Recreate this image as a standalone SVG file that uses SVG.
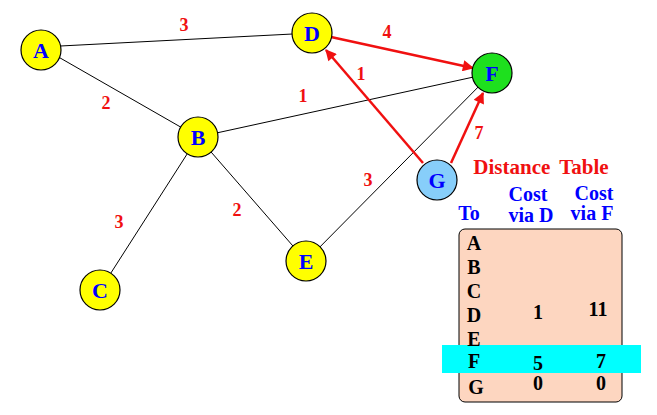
<svg xmlns="http://www.w3.org/2000/svg" width="657" height="415" viewBox="0 0 657 415">
<style>
.edge{stroke:#000;stroke-width:1;fill:none}
.red{stroke:#f01010;stroke-width:2.5;fill:none}
.node{stroke:#000;stroke-width:1.2}
.nl{font-family:"Liberation Serif",serif;font-weight:bold;font-size:22px;fill:#0000ff;text-anchor:middle;dominant-baseline:central}
.wl{font-family:"Liberation Serif",serif;font-weight:bold;font-size:18px;fill:#f01010;text-anchor:middle;dominant-baseline:central}
.hd{font-family:"Liberation Serif",serif;font-weight:bold;font-size:20px;fill:#0000ff;text-anchor:middle;dominant-baseline:central}
.tl{font-family:"Liberation Serif",serif;font-weight:bold;font-size:20px;fill:#000;text-anchor:middle;dominant-baseline:central}
</style>
<defs>
<marker id="ah" viewBox="0 0 10 10" refX="9" refY="5" markerWidth="5.5" markerHeight="4.5" orient="auto" markerUnits="strokeWidth">
<path d="M0,0 L10,5 L0,10 z" fill="#f01010"/>
</marker>
</defs>
<rect width="657" height="415" fill="#fff"/>
<g id="connectors">
<line class="edge" x1="41" y1="47" x2="312" y2="33"/>
<line class="edge" x1="41" y1="47" x2="198" y2="137"/>
<line class="edge" x1="198" y1="137" x2="492" y2="73"/>
<line class="edge" x1="198" y1="137" x2="100" y2="290"/>
<line class="edge" x1="198" y1="137" x2="306" y2="261"/>
<line class="edge" x1="306" y1="261" x2="492" y2="73"/>
<line class="red" x1="331" y1="37" x2="473" y2="68" marker-end="url(#ah)"/>
<line class="red" x1="423" y1="163" x2="326" y2="50" marker-end="url(#ah)"/>
<line class="red" x1="451" y1="163" x2="483" y2="93" marker-end="url(#ah)"/>
<text class="wl" x="184" y="25">3</text>
<text class="wl" x="106" y="103">2</text>
<text class="wl" x="303" y="96">1</text>
<text class="wl" x="387" y="32">4</text>
<text class="wl" x="361" y="74">1</text>
<text class="wl" x="479" y="133">7</text>
<text class="wl" x="368" y="180">3</text>
<text class="wl" x="119" y="222">3</text>
<text class="wl" x="237" y="210">2</text>
</g>
<g id="A"><circle class="node" cx="41" cy="50" r="20" fill="#ffff00"/><text class="nl" x="41" y="50">A</text></g>
<g id="B"><circle class="node" cx="198" cy="137" r="20" fill="#ffff00"/><text class="nl" x="198" y="137">B</text></g>
<g id="C"><circle class="node" cx="100" cy="290" r="20" fill="#ffff00"/><text class="nl" x="100" y="290">C</text></g>
<g id="D"><circle class="node" cx="312" cy="33" r="20" fill="#ffff00"/><text class="nl" x="312" y="33">D</text></g>
<g id="E"><circle class="node" cx="306" cy="261" r="20" fill="#ffff00"/><text class="nl" x="306" y="261">E</text></g>
<g id="F"><circle class="node" cx="492" cy="73" r="20" fill="#1ee01e"/><text class="nl" x="492" y="73">F</text></g>
<g id="G"><circle class="node" cx="437" cy="180" r="20" fill="#87cefa"/><text class="nl" x="437" y="180">G</text></g>
<g id="table">
<text x="541" y="167" font-family="Liberation Serif,serif" font-weight="bold" font-size="21" fill="#f01010" text-anchor="middle" dominant-baseline="central" word-spacing="4">Distance Table</text>
<text class="hd" x="528" y="194">Cost</text>
<text class="hd" x="531" y="215">via D</text>
<text class="hd" x="594" y="193">Cost</text>
<text class="hd" x="592" y="213">via F</text>
<text class="hd" x="469" y="213">To</text>
<rect x="459" y="229" width="163" height="173" rx="6" fill="#fdd6c0" stroke="#000" stroke-width="1"/>
<rect x="442" y="345" width="199" height="28" fill="#00ffff"/>
<text class="tl" x="474" y="243">A</text>
<text class="tl" x="474" y="267">B</text>
<text class="tl" x="474" y="291">C</text>
<text class="tl" x="474" y="315">D</text>
<text class="tl" x="474" y="339">E</text>
<text class="tl" x="474" y="361">F</text>
<text class="tl" x="476" y="387">G</text>
<text class="tl" x="538" y="312">1</text>
<text class="tl" x="598" y="309">11</text>
<text class="tl" x="538" y="363">5</text>
<text class="tl" x="601" y="361">7</text>
<text class="tl" x="538" y="383">0</text>
<text class="tl" x="601" y="383">0</text>
</g>
</svg>
